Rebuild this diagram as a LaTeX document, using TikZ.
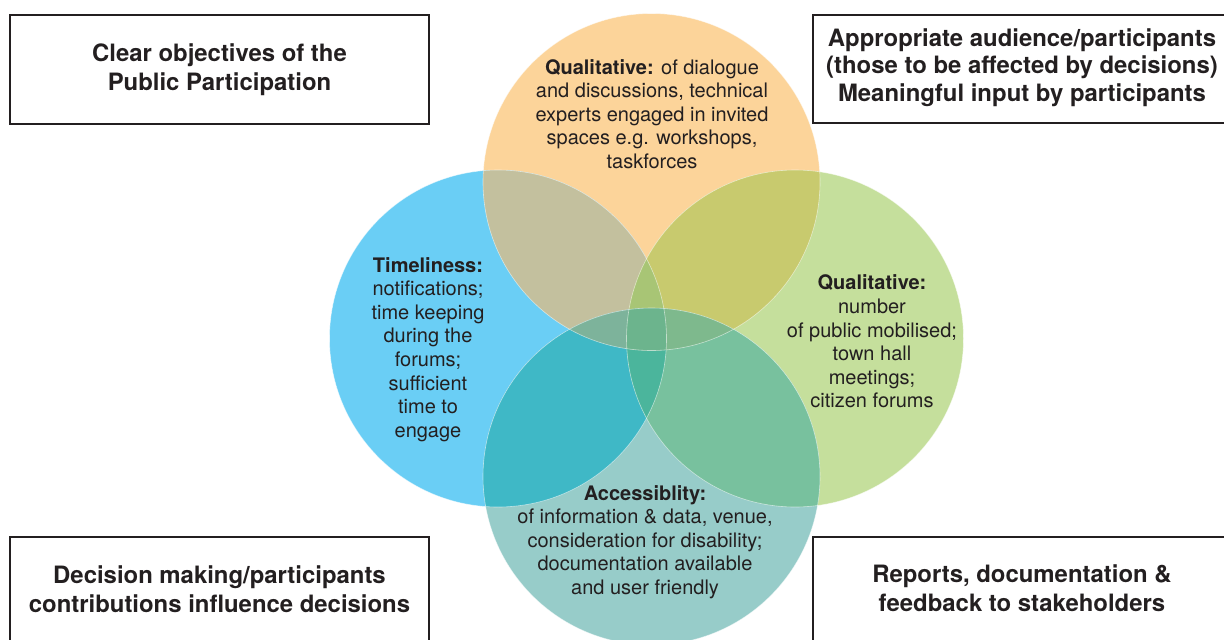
\documentclass[tikz,border=0pt]{standalone}
\usepackage{fontspec}
\setmainfont{TeX Gyre Heros}
\definecolor{ink}{HTML}{231F20}
\definecolor{cT}{HTML}{FCD49A}
\definecolor{cL}{HTML}{6ACEF5}
\definecolor{cR}{HTML}{C5DF9C}
\definecolor{cB}{HTML}{97CCC9}
\definecolor{cTL}{HTML}{C3C09E}
\definecolor{cTR}{HTML}{C8CA6E}
\definecolor{cLB}{HTML}{3FB8C6}
\definecolor{cRB}{HTML}{78C19E}
\definecolor{cTLR}{HTML}{A8C575}
\definecolor{cTLB}{HTML}{7DB39B}
\definecolor{cTRB}{HTML}{7EB98D}
\definecolor{cLRB}{HTML}{4BB59C}
\definecolor{cQ}{HTML}{6CB48D}
\tikzset{
  framebox/.style={draw=ink, line width=1.4pt},
  boxtext/.style={text=ink, align=center, font=\bfseries\fontsize{23.9}{29}\selectfont},
  circtext/.style={text=ink, align=center, font=\fontsize{20}{23.6}\selectfont},
  rim/.style={draw=white, draw opacity=0.55, line width=0.6pt}
}
\def\pT{(651.5,182) circle[radius=168.5pt]}
\def\pL{(498,338.5) circle[radius=168.5pt]}
\def\pR{(795,338.5) circle[radius=168.5pt]}
\def\pB{(651.5,476.5) circle[radius=168.5pt]}
\begin{document}
\begin{tikzpicture}[x=1pt,y=-1pt]
\useasboundingbox (0,0) rectangle (1224,640);
\fill[white] (0,0) rectangle (1224,640);
% base circles
\fill[cT] \pT;
\fill[cL] \pL;
\fill[cR] \pR;
\fill[cB] \pB;
% pairwise overlaps
\begin{scope}\clip \pT; \fill[cTL] \pL; \fill[cTR] \pR; \end{scope}
\begin{scope}\clip \pB; \fill[cLB] \pL; \fill[cRB] \pR; \end{scope}
% triple overlaps
\begin{scope}\clip \pL; \clip \pR; \fill[cTLR] \pT; \fill[cLRB] \pB; \end{scope}
\begin{scope}\clip \pT; \clip \pB; \fill[cTLB] \pL; \fill[cTRB] \pR; \end{scope}
% quadruple overlap
\begin{scope}\clip \pT; \clip \pB; \clip \pL; \fill[cQ] \pR; \end{scope}
% faint rims
\draw[rim] \pT; \draw[rim] \pL; \draw[rim] \pR; \draw[rim] \pB;
% corner boxes
\draw[framebox] (10,15) rectangle (429,124);
\node[boxtext] (tl) at (219.5,69.5) {Clear objectives of the\\Public Participation};
\draw[framebox] (813,15) rectangle (1240,123);
\node[boxtext, font=\bfseries\fontsize{23.9}{27.5}\selectfont] (tr) at (1022,67.5) {Appropriate audience/participants\\(those to be affected by decisions)\\Meaningful input by participants};
\draw[framebox] (10,537) rectangle (429,660);
\node[boxtext] (bl) at (219.5,589) {Decision making/participants\\contributions influence decisions};
\draw[framebox] (813,537) rectangle (1240,660);
\node[boxtext] (br) at (1022,588.5) {Reports, documentation \&\\feedback to stakeholders};
% circle texts
\node[circtext] (tq) at (652,114) {\textbf{Qualitative:} of dialogue\\and discussions, technical\\experts engaged in invited\\spaces e.g. workshops,\\taskforces};
\node[circtext] (lt) at (428,349.5) {\textbf{Timeliness:}\\notifications;\\time keeping\\during the\\forums;\\sufficient\\time to\\engage};
\node[circtext] (rq) at (872,341.5) {\textbf{Qualitative:}\\number\\of public mobilised;\\town hall\\meetings;\\citizen forums};
\node[circtext] (ba) at (645,542) {\textbf{Accessiblity:}\\of information \& data, venue,\\consideration for disability;\\documentation available\\and user friendly};
\end{tikzpicture}
\end{document}
